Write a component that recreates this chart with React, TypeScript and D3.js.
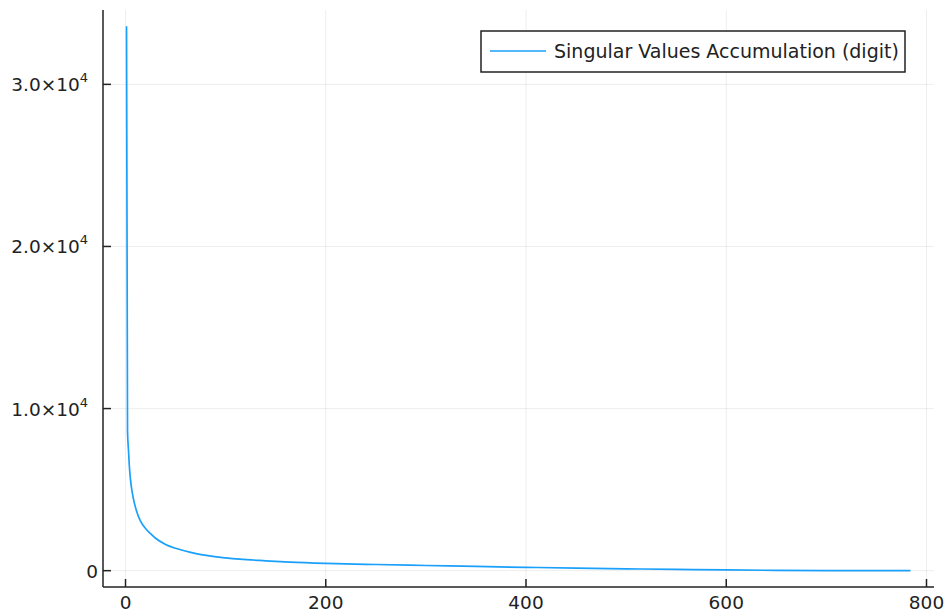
import React from "react";
import * as d3 from "d3";

const indices: number[] = [1, 2, 3, 4, 5, 6, 8, 10, 12, 15, 20, 25, 30, 40, 50, 64, 77, 100, 114, 140, 164, 200, 250, 300, 350, 400, 450, 500, 550, 600, 650, 700, 720, 784];
const singularValues: number[] = [33580, 8600, 7400, 6300, 5600, 5100, 4400, 3900, 3500, 3050, 2600, 2280, 2000, 1620, 1380, 1140, 970, 790, 710, 610, 530, 450, 380, 320, 260, 205, 160, 115, 80, 45, 20, 5, 2, 0];
const xTicks: number[] = [0, 200, 400, 600, 800];
const yTicks: number[] = [0, 10000, 20000, 30000];
const yTickMantissa: string[] = ["0", "1.0", "2.0", "3.0"];
const seriesLabel = "Singular Values Accumulation (digit)";

const W = 944, H = 613;
const left = 103, right = 934, top = 10, bottom = 587;
const FONT = "DejaVu Sans, sans-serif";

export default function App() {
  const maxV = d3.max(singularValues) as number;
  const minV = d3.min(singularValues) as number;
  const xr = 784 - 1;
  const x = d3.scaleLinear().domain([1 - 0.03 * xr, 784 + 0.03 * xr]).range([left, right]);
  const yr = maxV - minV;
  const y = d3.scaleLinear().domain([minV - 0.03 * yr, maxV + 0.03 * yr]).range([bottom, top]);
  const pts = indices.map((d, i) => [d, singularValues[i]] as [number, number]);
  const line = d3.line<[number, number]>().x(d => x(d[0])).y(d => y(d[1])).curve(d3.curveMonotoneX);
  return (
    <svg width={W} height={H} style={{ position: "absolute", left: 0, top: 0, background: "#fff" }} fontFamily={FONT}>
      <rect width={W} height={H} fill="#fff" />
      {xTicks.map(t => (
        <line key={"gx" + t} x1={x(t)} x2={x(t)} y1={top} y2={bottom} stroke="#000" strokeOpacity={0.07} strokeWidth={1} />
      ))}
      {yTicks.map(t => (
        <line key={"gy" + t} x1={left} x2={right} y1={y(t)} y2={y(t)} stroke="#000" strokeOpacity={0.07} strokeWidth={1} />
      ))}
      <path d={line(pts) || ""} fill="none" stroke="#1aa0fb" strokeWidth={1.7} strokeLinejoin="round" />
      <line x1={left} x2={left} y1={top} y2={bottom} stroke="#222" strokeWidth={1.5} />
      <line x1={left} x2={right} y1={bottom} y2={bottom} stroke="#222" strokeWidth={1.5} />
      {xTicks.map(t => (
        <g key={"tx" + t}>
          <line x1={x(t)} x2={x(t)} y1={bottom} y2={bottom - 8} stroke="#222" strokeWidth={1.5} />
          <text x={x(t)} y={609} textAnchor="middle" fontSize={18.5} fill="#222">{t}</text>
        </g>
      ))}
      {yTicks.map((t, i) => (
        <g key={"ty" + t}>
          <line x1={left} x2={left + 8} y1={y(t)} y2={y(t)} stroke="#222" strokeWidth={1.5} />
          {t === 0 ? (
            <text x={98} y={y(t) + 7} textAnchor="end" fontSize={18.5} fill="#222">0</text>
          ) : (
            <text x={88} y={y(t) + 7} textAnchor="end" fontSize={18.5} fill="#222">
              {yTickMantissa[i] + "×10"}
              <tspan fontSize={13} dy={-9}>4</tspan>
            </text>
          )}
        </g>
      ))}
      <rect x={481} y={31} width={424} height={41} fill="#fff" stroke="#222" strokeWidth={1.5} />
      <line x1={490} x2={546} y1={51} y2={51} stroke="#1aa0fb" strokeWidth={1.7} />
      <text x={554} y={58} fontSize={19} fill="#222">{seriesLabel}</text>
    </svg>
  );
}
